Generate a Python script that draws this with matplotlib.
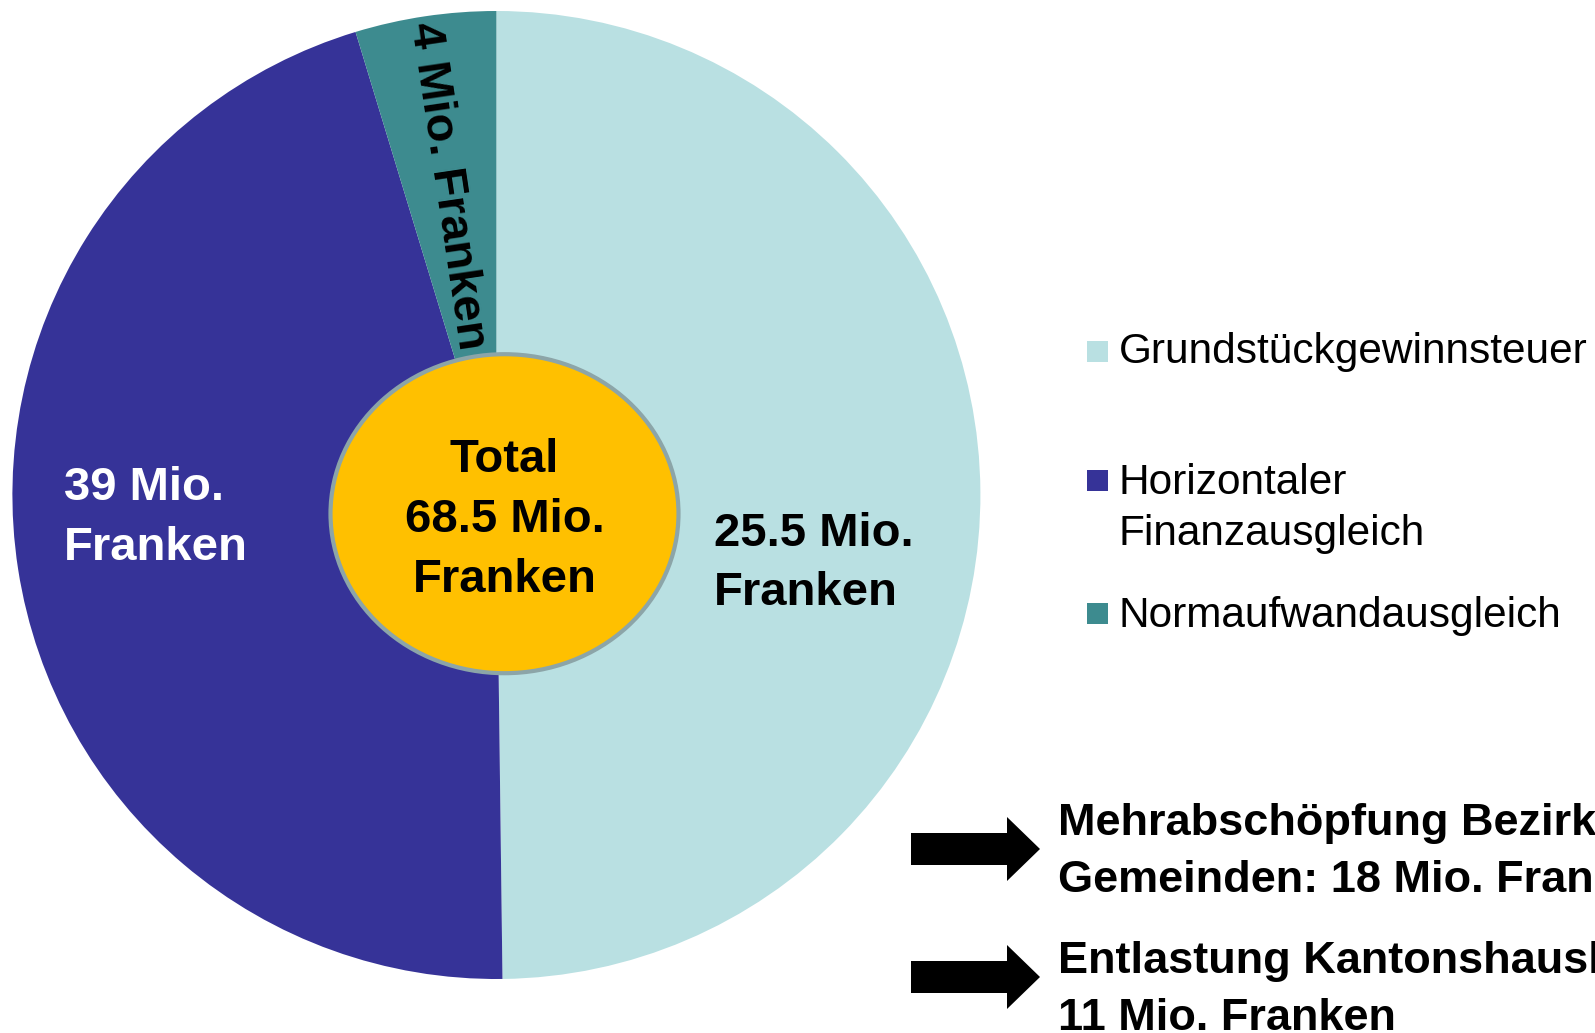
## Steuerertrag / Mehrabschöpfung - Kreisdiagramm

import numpy as np
import matplotlib
matplotlib.use("Agg")
import matplotlib.pyplot as plt
from matplotlib.patches import Ellipse, Rectangle, FancyArrow

plt.rcParams['font.family'] = ['Liberation Sans', 'DejaVu Sans']

## Daten
categories = ['Grundstückgewinnsteuer', 'Horizontaler\nFinanzausgleich', 'Normaufwandausgleich']
amounts = [25.5, 39, 4]  ## Mio. Franken (Beschriftung)
shares = [49.8, 45.5, 4.7]  ## Anteile wie im Bild gezeichnet (%)
colors = ['#B9E0E2', '#363398', '#3D8B8F']
total = 68.5
notes = ['Mehrabschöpfung Bezirke und\nGemeinden: 18 Mio. Franken',
         'Entlastung Kantonshaushalt:\n11 Mio. Franken']

W, H = 1595, 1033

fig = plt.figure(figsize=(W / 100, H / 100), dpi=100)
ax = fig.add_axes([0, 0, 1, 1])

cx, cy, R = 496.4, H - 495, 484
wedges, _ = ax.pie(shares, colors=colors, startangle=90, counterclock=False,
                   center=(cx, cy), radius=R,
                   wedgeprops=dict(linewidth=0))

ax.set_xlim(0, W)
ax.set_ylim(0, H)
ax.set_aspect('equal')
ax.axis('off')

## Beschriftungen der Segmente
def fmt(v):
    return ('%g Mio.' % v)

ax.text(714, H - 563.5, fmt(amounts[0]) + '\nFranken', ha='left', va='center',
        fontsize=34, fontweight='bold', color='black', linespacing=1.46)
ax.text(64, H - 518, fmt(amounts[1]) + '\nFranken', ha='left', va='center',
        fontsize=34, fontweight='bold', color='white', linespacing=1.46)

## kleines Segment: Text radial entlang des Keils
w = wedges[2]
mid = np.deg2rad((w.theta1 + w.theta2) / 2)
r_txt = 0.645 * R
ax.text(cx + r_txt * np.cos(mid) - 3, cy + r_txt * np.sin(mid),
        fmt(amounts[2]) + ' Franken', ha='center', va='center',
        rotation=np.rad2deg(mid) - 180, rotation_mode='anchor',
        fontsize=34, fontweight='bold', color='black')

## Total in der Mitte
ax.add_patch(Ellipse((504.5, H - 513.7), 348, 319, facecolor='#FFC000',
                     edgecolor='#8CA5A8', linewidth=3, zorder=3))
ax.text(504.5, H - 520, 'Total\n%g Mio.\nFranken' % total, ha='center', va='center',
        fontsize=34, fontweight='bold', color='black', linespacing=1.46, zorder=4)

## Legende
legend_y = [352.5, 508.5, 616]
for lab, col, y in zip(categories, colors, legend_y):
    sq_y = 351 if y < 400 else (480 if '\n' in lab else 613)
    ax.add_patch(Rectangle((1086.5, H - sq_y - 10.5), 21, 21, facecolor=col, edgecolor='none'))
    ax.text(1119, H - y, lab, ha='left', va='center', fontsize=30.5,
            color='black', linespacing=1.34)

## Pfeile mit Hinweisen
for note, y, ty in zip(notes, [849, 977], [852.5, 990]):
    ax.add_patch(FancyArrow(911, H - y, 129, 0, width=32, head_width=64,
                            head_length=33, length_includes_head=True,
                            facecolor='black', edgecolor='none'))
    ax.text(1058, H - ty, note, ha='left', va='center', fontsize=32.5,
            fontweight='bold', color='black', linespacing=1.5)

plt.savefig('out.png', dpi=100)
plt.close(fig)
